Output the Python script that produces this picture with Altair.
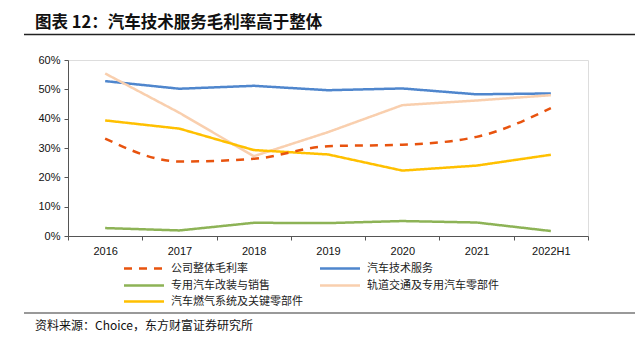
import altair as alt
import pandas as pd

years = ["2016", "2017", "2018", "2019", "2020", "2021", "2022H1"]
series_names = ["公司整体毛利率", "汽车技术服务", "专用汽车改装与销售", "轨道交通及专用汽车零部件", "汽车燃气系统及关键零部件"]
overall = [33.2, 25.4, 26.3, 30.6, 31.1, 33.8, 43.6]
tech = [52.8, 50.2, 51.2, 49.7, 50.3, 48.3, 48.6]
special = [2.7, 1.9, 4.5, 4.4, 5.1, 4.6, 1.7]
rail = [55.4, 42.0, 27.2, 35.4, 44.6, 46.2, 48.0]
gas = [39.4, 36.6, 29.3, 27.8, 22.3, 24.0, 27.7]
colors = ["#e8530e", "#4f86cd", "#8db356", "#f9cfae", "#ffc000"]
dashes = [[8, 7], [1, 0], [1, 0], [1, 0], [1, 0]]

title_text = "图表 12：汽车技术服务毛利率高于整体"
source_text = "资料来源：Choice，东方财富证券研究所"

rows = []
for name, vals in zip(series_names, [overall, tech, special, rail, gas]):
    for y, v in zip(years, vals):
        rows.append({"year": y, "series": name, "value": v / 100})
df = pd.DataFrame(rows)

color = alt.Color("series:N", scale=alt.Scale(domain=series_names, range=colors), legend=None)
dash = alt.StrokeDash("series:N", scale=alt.Scale(domain=series_names, range=dashes), legend=None)

x = alt.X(
    "year:N", sort=years, bandPosition=0.5,
    scale=alt.Scale(type="band", paddingInner=0, paddingOuter=0),
    axis=alt.Axis(title=None, labelAngle=0, tickBand="extent", labelFont="Liberation Sans",
                  labelFontSize=11, labelColor="#111", domainColor="#555", tickColor="#555",
                  tickSize=4, labelPadding=5, grid=False),
)
y = alt.Y(
    "value:Q", scale=alt.Scale(domain=[0, 0.6], nice=False),
    axis=alt.Axis(title=None, format=".0%", values=[0, 0.1, 0.2, 0.3, 0.4, 0.5, 0.6],
                  labelFont="Liberation Sans", labelFontSize=11, labelColor="#111",
                  domainColor="#555", tickColor="#555", tickSize=4, labelPadding=4, grid=False),
)

base = alt.Chart(df)
solid = base.transform_filter(alt.datum.series != series_names[0]).mark_line(strokeWidth=2.5).encode(
    x=x, y=y, color=color, strokeDash=dash, detail="series:N")
dashed = base.transform_filter(alt.datum.series == series_names[0]).mark_line(
    strokeWidth=2.5, interpolate="monotone").encode(x=x, y=y, color=color, strokeDash=dash)

one = alt.Data(values=[{"a": 1}])

# manual legend (layout positions only, relative to plot origin)
legend_layers = []
col_x = [56, 252]
row_y = [208.5, 225.5, 241.5]
for i, name in enumerate(series_names):
    cx = col_x[i % 2]
    ry = row_y[i // 2]
    legend_layers.append(
        alt.Chart(one).mark_rule(color=colors[i], strokeWidth=2.5, strokeDash=dashes[i]).encode(
            x=alt.value(cx), x2=alt.value(cx + 40), y=alt.value(ry)))
    legend_layers.append(
        alt.Chart(pd.DataFrame({"t": [name]})).mark_text(
            align="left", baseline="middle", font="Noto Sans CJK SC", fontSize=11, color="#222"
        ).encode(x=alt.value(cx + 47), y=alt.value(ry), text="t:N"))

title = alt.Chart(pd.DataFrame({"t": [title_text]})).mark_text(
    align="left", baseline="alphabetic", font="Noto Sans CJK SC", fontSize=16.5, fontWeight="bold", color="#111"
).encode(x=alt.value(-33), y=alt.value(-32), text="t:N")
source = alt.Chart(pd.DataFrame({"t": [source_text]})).mark_text(
    align="left", baseline="middle", font="Noto Sans CJK SC", fontSize=12, color="#111"
).encode(x=alt.value(-33), y=alt.value(266), text="t:N")
line_top = alt.Chart(one).mark_rule(color="#222", strokeWidth=1.5).encode(
    x=alt.value(-44), x2=alt.value(567), y=alt.value(-25.5))
line_bot = alt.Chart(one).mark_rule(color="#777", strokeWidth=1.5).encode(
    x=alt.value(-44), x2=alt.value(567), y=alt.value(253))

chart = alt.layer(solid, dashed, title, source, line_top, line_bot, *legend_layers).properties(
    width=520, height=176,
    autosize=alt.AutoSizeParams(type="none"),
    padding={"left": 68, "top": 60, "right": 47, "bottom": 111},
).configure_view(stroke=None).configure(background="white")

chart.save("out.html", embed_options={"renderer": "svg", "actions": False})
